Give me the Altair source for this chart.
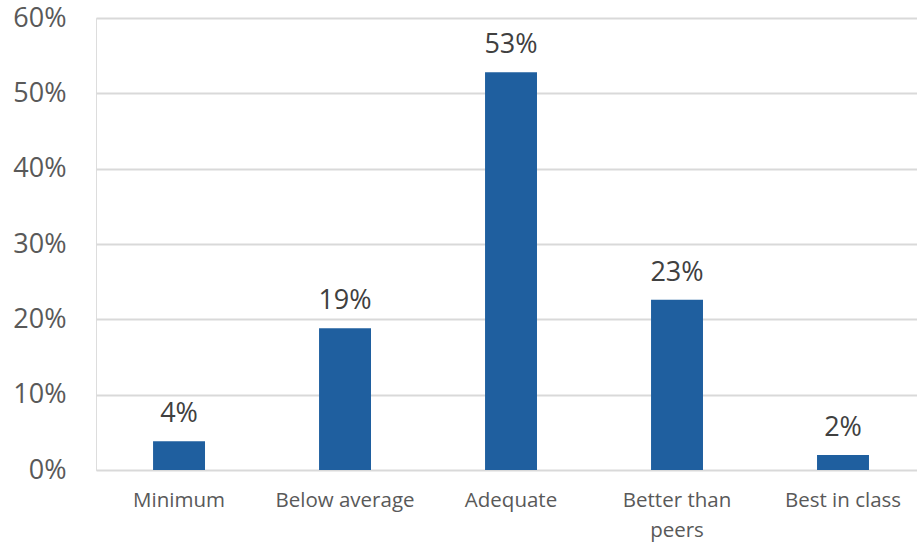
import altair as alt
import pandas as pd

categories = ["Minimum", "Below average", "Adequate", "Better than peers", "Best in class"]
shares = [0.038, 0.188, 0.528, 0.226, 0.020]

df = pd.DataFrame({"category": categories, "share": shares})

FONT = "Open Sans"

x = alt.X(
    "category:N",
    sort=categories,
    title=None,
    scale=alt.Scale(paddingInner=0.687, paddingOuter=0.3165, align=0.543),
    axis=alt.Axis(
        labelAngle=0,
        labelFont=FONT,
        labelFontSize=20.5,
        labelColor="#595959",
        labelPadding=20,
        labelLineHeight=30,
        labelExpr="datum.value == 'Better than peers' ? ['Better than', 'peers'] : datum.value",
        ticks=False,
        domain=False,
        grid=False,
    ),
)

y = alt.Y(
    "share:Q",
    title=None,
    scale=alt.Scale(domain=[0, 0.6], nice=False),
    axis=alt.Axis(
        format=".0%",
        values=[0, 0.1, 0.2, 0.3, 0.4, 0.5, 0.6],
        labelFont=FONT,
        labelFontSize=27,
        labelColor="#595959",
        labelPadding=30,
        ticks=False,
        domain=False,
        gridColor="#D9D9D9",
        gridWidth=2,
    ),
)

bars = alt.Chart(df).mark_bar(color="#1F5F9F").encode(x=x, y=y)

labels = alt.Chart(df).mark_text(
    font=FONT, fontSize=27, color="#404040", baseline="alphabetic", dy=-19
).encode(x=x, y=y, text=alt.Text("share:Q", format=".0%"))

chart = (
    alt.layer(bars, labels)
    .properties(
        width=821,
        height=452,
        autosize=alt.AutoSizeParams(type="none"),
        padding={"left": 96, "top": 18, "right": 0, "bottom": 73},
    )
    .configure_view(stroke=None)
    .configure(background="white")
)

chart.save("out.html", embed_options={"renderer": "svg", "actions": False})
